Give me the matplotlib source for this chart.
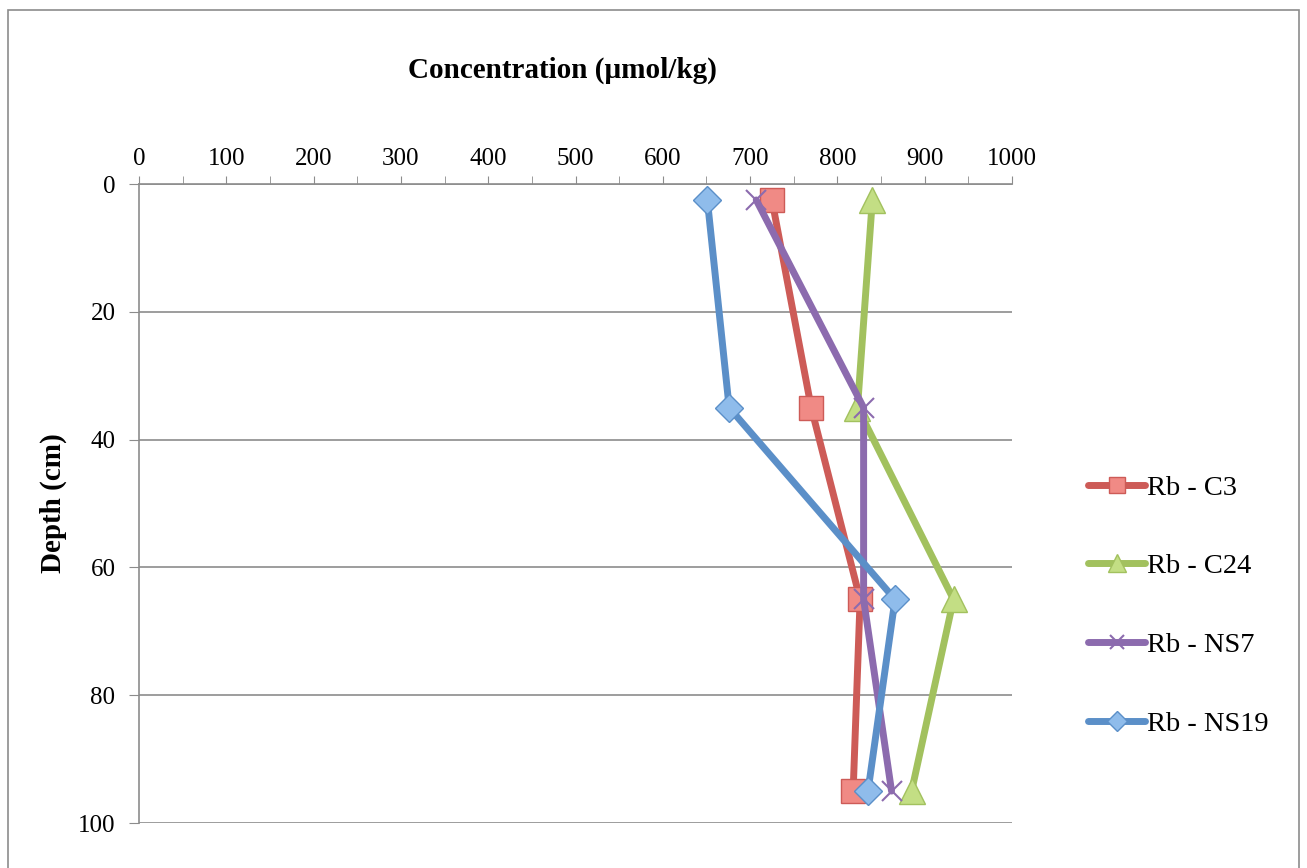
import matplotlib
matplotlib.use('Agg')
import matplotlib.pyplot as plt
from matplotlib.patches import Rectangle

plt.rcParams['font.family'] = ['Liberation Serif', 'DejaVu Serif']

depth = [2.5, 35, 65, 95]
c3 = [725, 770, 826, 818]
c24 = [840, 823, 933, 885]
ns7 = [707, 830, 830, 862]
ns19 = [651, 676, 866, 835]

series = [
    ('Rb - C3', c3, '#CD5B57', '#F08A85', 's', 17),
    ('Rb - C24', c24, '#A2C15E', '#C3DE84', '^', 19),
    ('Rb - NS7', ns7, '#8C6BAE', '#8C6BAE', 'x', 15),
    ('Rb - NS19', ns19, '#5B8FC8', '#8FBCEB', 'D', 14),
]

fig = plt.figure(figsize=(13.07, 8.68), dpi=100)
ax = fig.add_axes([0.1064, 0.0518, 0.6679, 0.7362])

for name, vals, col, face, mk, ms in series:
    if mk == 'x':
        ax.plot(vals, depth, color=col, lw=5, marker=mk, ms=ms, mew=1.5,
                mec=col, label=name, solid_capstyle='round', solid_joinstyle='round')
    else:
        ax.plot(vals, depth, color=col, lw=5, marker=mk, ms=ms, mfc=face,
                mec=col, mew=1, label=name, solid_capstyle='round', solid_joinstyle='round')

ax.set_xlim(0, 1000)
ax.set_ylim(100, 0)
ax.xaxis.tick_top()
ax.set_xticks(range(0, 1001, 100))
ax.set_xticks(range(50, 1000, 100), minor=True)
ax.set_yticks(range(0, 101, 20))
ax.tick_params(axis='x', which='both', direction='out', length=6, color='#8c8c8c',
               labelsize=18, pad=4)
ax.tick_params(axis='y', direction='out', length=7, color='#8c8c8c', labelsize=18, pad=10)
ax.grid(axis='y', color='#8c8c8c', lw=1.2)
ax.set_axisbelow(True)
for s in ['right', 'bottom']:
    ax.spines[s].set_visible(False)
for s in ['left', 'top']:
    ax.spines[s].set_color('#8c8c8c')
    ax.spines[s].set_linewidth(1.2)

ax.set_ylabel('Depth (cm)', fontsize=21, fontweight='bold', labelpad=8)
fig.text(0.43, 0.919, 'Concentration (µmol/kg)', fontsize=21, fontweight='bold',
         ha='center', va='center')

ax.legend(loc='center left', bbox_to_anchor=(1.058, 0.34), frameon=False, fontsize=20.5,
          handlelength=2.0, handletextpad=0.05, labelspacing=1.85, markerscale=0.7)

fig.add_artist(Rectangle((0.006, -0.01), 0.988, 0.998, transform=fig.transFigure,
                         fill=False, ec='#8c8c8c', lw=1.2))

fig.savefig('out.png', dpi=100)
